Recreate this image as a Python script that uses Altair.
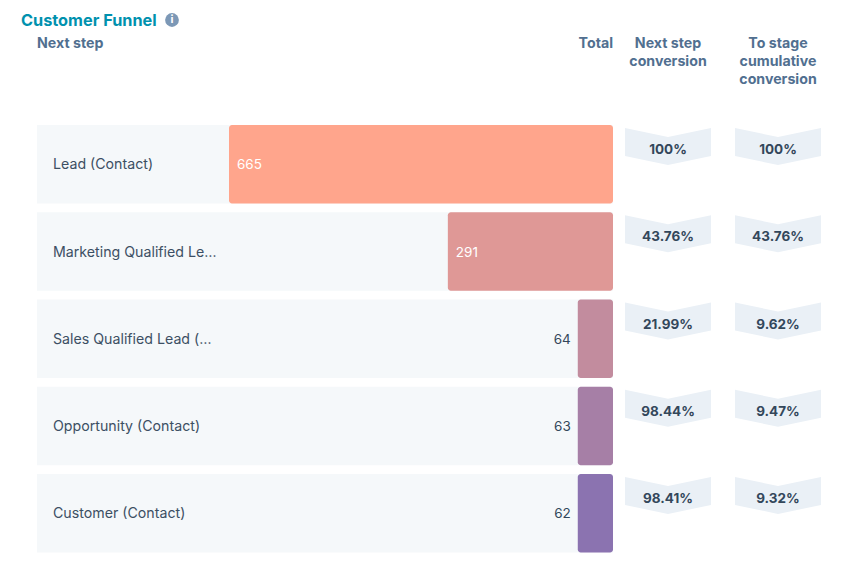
import altair as alt
import pandas as pd

stages = ["Lead (Contact)", "Marketing Qualified Le…", "Sales Qualified Lead (…", "Opportunity (Contact)", "Customer (Contact)"]
totals = [665, 291, 64, 63, 62]
# drawn lengths: small steps have a minimum bar width in the source chart
bar_lengths = [665, 286, 61, 61, 61]
colors = ["#FFA58C", "#DF9896", "#C28C9E", "#A67FA6", "#8B73B0"]
next_step = ["100%", "43.76%", "21.99%", "98.44%", "98.41%"]
cumulative = ["100%", "43.76%", "9.62%", "9.47%", "9.32%"]
track_length = 997.5
columns = ["Next step conversion", "To stage cumulative conversion"]

FONT = "Inter"
W, H = 841, 551

df = pd.DataFrame({"stage": stages, "total": totals, "length": bar_lengths, "track": track_length})
conv = pd.DataFrame(
    [{"stage": s, "column": columns[0], "pct": p} for s, p in zip(stages, next_step)]
    + [{"stage": s, "column": columns[1], "pct": p} for s, p in zip(stages, cumulative)]
)

yscale = alt.Scale(domain=stages, range=[117, 544.5], paddingInner=0.1, paddingOuter=0)
xscale = alt.Scale(domain=[0, track_length], range=[605, 29])
cscale = alt.Scale(type="point", domain=columns, range=[660, 770], padding=0)
Y = alt.Y("stage:N", scale=yscale, axis=None)


def xq(field):
    return alt.X(f"{field}:Q", scale=xscale, axis=None, stack=None)


track = alt.Chart(df).mark_bar(color="#F5F8FA").encode(x=xq("track"), y=Y)
bars = alt.Chart(df).mark_bar(cornerRadius=3).encode(
    x=xq("length"), y=Y,
    color=alt.Color("stage:N", scale=alt.Scale(domain=stages, range=colors), legend=None),
)
labels = alt.Chart(df).mark_text(align="left", dy=1, font=FONT, fontSize=14.2, color="#33475B", opacity=0.95).encode(
    x=alt.value(45), y=Y, text="stage:N"
)
inside = alt.Chart(df[df.total > 100]).mark_text(align="left", dx=8, dy=1, font=FONT, fontSize=13.5, color="#FFFFFF").encode(
    x=xq("length"), y=Y, text="total:Q"
)
outside = alt.Chart(df[df.total <= 100]).mark_text(align="right", dx=-7, dy=1, font=FONT, fontSize=13.5, color="#33475B").encode(
    x=xq("length"), y=Y, text="total:Q"
)

CHEVRON = "M-1,-0.43 L0,-0.22 L1,-0.43 L1,0.22 L0,0.43 L-1,0.22 Z"
XC = alt.X("column:N", scale=cscale, axis=None)
chev = alt.Chart(conv).mark_point(shape=CHEVRON, size=7396, filled=True, opacity=1, color="#EAF0F6", strokeWidth=0).encode(
    x=XC, y=alt.Y("stage:N", scale=yscale, axis=None, bandPosition=0.274)
)
pct = alt.Chart(conv).mark_text(font=FONT, fontSize=13.5, fontWeight="bold", color="#33475B").encode(
    x=XC, y=alt.Y("stage:N", scale=yscale, axis=None, bandPosition=0.32), text="pct:N"
)


def header(text, x, align, size=14.2, color="#516F90", y=36):
    return alt.Chart(pd.DataFrame({"a": [0]})).mark_text(
        text=text, align=align, baseline="middle", font=FONT, fontSize=size,
        fontWeight="bold", color=color, lineHeight=18,
    ).encode(x=alt.value(x), y=alt.value(y))


title = header("Customer Funnel", 13, "left", size=16.3, color="#0091AE", y=13)
h1 = header("Next step", 29, "left")
h2 = header("Total", 605, "right")
h3 = header(["Next step", "conversion"], 660, "center")
h4 = header(["To stage", "cumulative", "conversion"], 770, "center")
icon = alt.Chart(pd.DataFrame({"a": [0]})).mark_point(shape="circle", size=190, filled=True, opacity=1, color="#7C98B6").encode(
    x=alt.value(164), y=alt.value(12)
)
icon_i = header("i", 164, "center", size=11, color="#FFFFFF", y=12)

chart = alt.layer(
    track, bars, labels, inside, outside, chev, pct, title, h1, h2, h3, h4, icon, icon_i
).resolve_scale(x="independent", color="independent").properties(
    width=W, height=H, padding=0, autosize=alt.AutoSizeParams(type="none"), background="white"
).configure_view(stroke=None)

chart.save("out.html", embed_options={"renderer": "svg", "actions": False})
